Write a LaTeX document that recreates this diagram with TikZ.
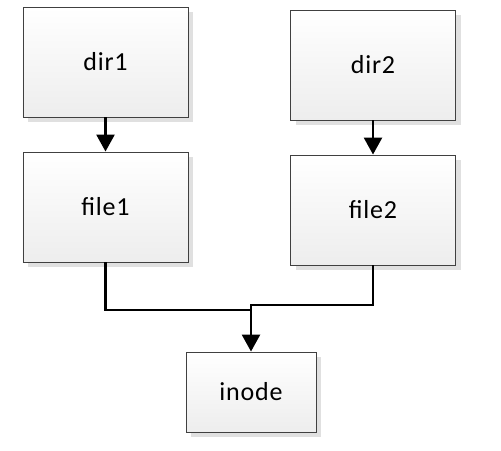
\documentclass[tikz,border=0pt]{standalone}
\usepackage{fontspec}
\setmainfont[LetterSpace=3]{Carlito}
\usetikzlibrary{arrows.meta,shadows}
\begin{document}
\begin{tikzpicture}[x=1bp,y=-1bp,
  box/.style={draw=black!75, line width=0.9bp, top color=white, bottom color=black!7,
    general shadow={fill=black!12, shadow xshift=5bp, shadow yshift=-5bp},
    font=\fontsize{26bp}{30bp}\selectfont, inner sep=0pt},
  big/.style={box, minimum width=165bp, minimum height=110bp},
  small/.style={box, minimum width=130bp, minimum height=80bp},
  conn/.style={line width=2.6bp, black},
  arr/.style={conn, -{Triangle[width=18bp,length=17bp]}}]
\fill[white] (0,0) rectangle (501,451);
\useasboundingbox (0,0) rectangle (501,451);
\node[big] (dir1) at (105.5,62) {dir1};
\node[big] (file1) at (105.5,207) {file1};
\node[big] (dir2) at (373,65) {dir2};
\node[big] (file2) at (373,210) {file2};
\node[small] (inode) at (251,392) {inode};
\coordinate (j1) at (251,310);
\coordinate (j2) at (251,305);
\draw[arr] (dir1) -- (file1);
\draw[arr] (dir2) -- (file2);
\draw[conn] (file1.south) |- (j1);
\draw[arr] (file2.south) |- (j2) -- (inode.north);
\end{tikzpicture}
\end{document}
